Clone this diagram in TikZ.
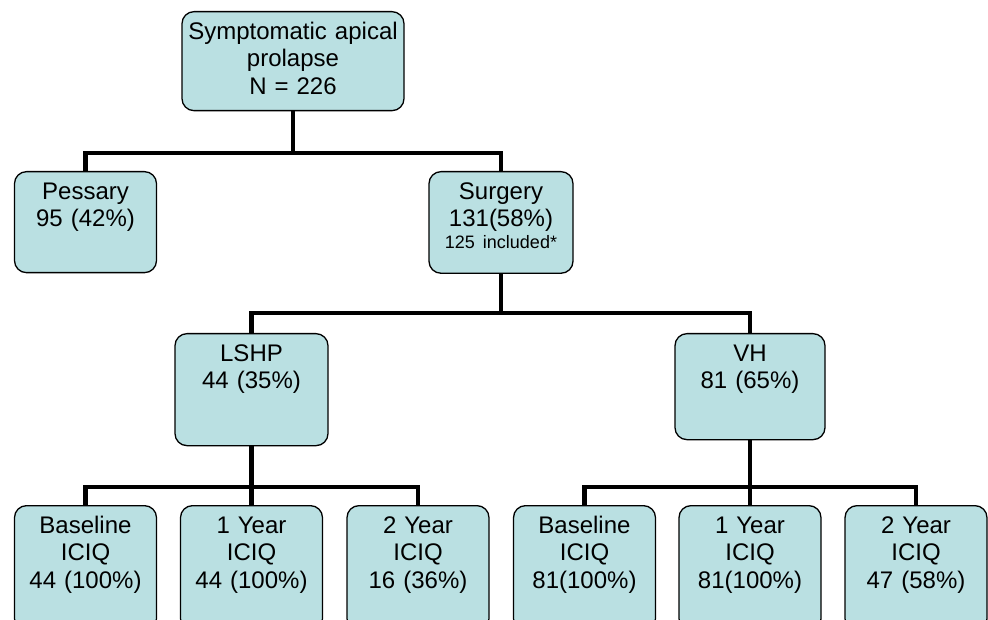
\documentclass[tikz,border=0pt]{standalone}
\usepackage{fontspec}
\setmainfont{Liberation Sans}
\usepackage{tikz}
\definecolor{boxfill}{RGB}{186,224,226}

\begin{document}
\begin{tikzpicture}[x=1pt,y=-1pt]
        %
        % `stage' is used for every box of the tree.
        % `link' is used for the connecting lines.
        \tikzstyle{stage} = [draw,fill=boxfill,line width=1.3pt,rounded corners=12pt,
                inner sep=0pt,anchor=north,align=center,text height=27.6pt,
                font=\fontsize{24}{27.5}\selectfont]
        \tikzstyle{link} = [line width=4.5pt]
        %
        \useasboundingbox (0,0) rectangle (988,620);
        \clip (0,0) rectangle (988,620);
        %
        % Level 1
        \node[stage,text width=222pt,text depth=71.4pt] (apex) at (293,11)
                {Symptomatic apical\\prolapse\\N = 226};
        %
        % Level 2
        \node[stage,text width=142pt,text depth=73.4pt] (pess) at (85.5,171)
                {Pessary\\95 (42\%)};
        \node[stage,text width=144pt,text depth=74pt] (surg) at (501,171)
                {Surgery\\131(58\%)\\[-5.5pt]{\fontsize{18}{21}\selectfont 125 included*}};
        %
        % Level 3
        \node[stage,text width=153pt,text depth=84.4pt] (lshp) at (251.5,333)
                {LSHP\\44 (35\%)};
        \node[stage,text width=150pt,text depth=78.4pt] (vh) at (750,333)
                {VH\\81 (65\%)};
        %
        % Level 4
        \node[stage,text width=142pt,text depth=97.4pt] (lbase) at (85.5,505)
                {Baseline\\ICIQ\\44 (100\%)};
        \node[stage,text width=142pt,text depth=97.4pt] (lone) at (251.5,505)
                {1 Year\\ICIQ\\44 (100\%)};
        \node[stage,text width=142pt,text depth=97.4pt] (ltwo) at (418,505)
                {2 Year\\ICIQ\\16 (36\%)};
        \node[stage,text width=142pt,text depth=97.4pt] (vbase) at (584.5,505)
                {Baseline\\ICIQ\\81(100\%)};
        \node[stage,text width=142pt,text depth=97.4pt] (vone) at (750,505)
                {1 Year\\ICIQ\\81(100\%)};
        \node[stage,text width=142pt,text depth=97.4pt] (vtwo) at (916,505)
                {2 Year\\ICIQ\\47 (58\%)};
        %
        % Junctions
        \coordinate (j1) at (293,153);
        \coordinate (j2) at (501,313);
        \coordinate (j3) at (251.5,487);
        \coordinate (j4) at (750,487);
        %
        % Lines
        \draw[link] (apex.south) -- (j1);
        \draw[link] (pess.north) |- (j1) -| (surg.north);
        \draw[link] (surg.south) -- (j2);
        \draw[link] (lshp.north) |- (j2) -| (vh.north);
        \draw[link] (lshp.south) -- (lone.north);
        \draw[link] (lbase.north) |- (j3) -| (ltwo.north);
        \draw[link] (vh.south) -- (vone.north);
        \draw[link] (vbase.north) |- (j4) -| (vtwo.north);
        %
\end{tikzpicture}
\end{document}
